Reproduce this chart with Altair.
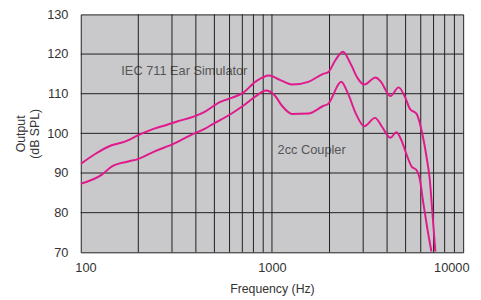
import altair as alt
import pandas as pd

# IEC 711 Ear Simulator curve (frequency Hz, output dB SPL)
iec_freq = [100, 119, 145, 170, 199, 242, 280, 319, 389, 447, 534, 620, 704, 824, 966,
            1100, 1274, 1550, 1853, 1965, 2150, 2348, 2594, 2800, 3035, 3485, 3700,
            4165, 4595, 4980, 5280, 5710, 6060, 6430, 6690, 6900, 7150]
iec_db = [92.3, 94.8, 97.0, 97.9, 99.5, 101.2, 102.1, 103.0, 104.2, 105.5, 107.9, 109.0,
          110.2, 113.1, 114.6, 113.5, 112.3, 113.0, 115.0, 115.4, 118.5, 120.6, 117.3,
          114.0, 112.3, 114.1, 113.1, 109.4, 111.6, 109.0, 106.1, 104.9, 100.7, 94.1,
          88.3, 80.1, 70.2]

# 2cc Coupler curve
cpl_freq = [100, 129, 145, 177, 199, 242, 307, 374, 447, 493, 601, 704, 824, 928, 1024,
            1131, 1274, 1550, 1853, 1965, 2302, 2490, 2751, 3035, 3458, 3770, 4165,
            4470, 4780, 5070, 5380, 5710, 5940, 6180, 6500, 6820]
cpl_db = [87.3, 89.6, 91.6, 92.9, 93.5, 95.4, 97.4, 99.5, 101.2, 102.4, 104.7, 106.9,
          109.4, 110.8, 109.8, 106.9, 104.9, 105.0, 106.9, 107.4, 113.0, 110.2, 104.9,
          101.8, 103.9, 101.6, 98.9, 100.3, 98.0, 94.5, 91.6, 90.7, 88.3, 82.6, 75.9, 70.2]

# grid values
grid_x = [200, 300, 400, 500, 600, 700, 800, 900, 1000, 2000, 3000, 4000, 5000,
          6000, 7000, 8000, 9000]
grid_y = [80, 90, 100, 110, 120]
x_ticks = [100, 1000, 10000]
y_ticks = [70, 80, 90, 100, 110, 120, 130]

# annotations
ann_text = ["IEC 711 Ear Simulator", "2cc Coupler"]
ann_freq = [163, 1070]
ann_db = [115.6, 95.9]

FONT = "Liberation Sans"
MAGENTA = "#e0198c"

lines_df = pd.DataFrame({
    "freq": iec_freq + cpl_freq,
    "db": iec_db + cpl_db,
    "series": ["IEC 711 Ear Simulator"] * len(iec_freq) + ["2cc Coupler"] * len(cpl_freq),
})
gx_df = pd.DataFrame({"freq": grid_x})
gy_df = pd.DataFrame({"db": grid_y})
ann_df = pd.DataFrame({"text": ann_text, "freq": ann_freq, "db": ann_db})

xscale = alt.Scale(type="log", domain=[100, 10000], nice=False)
yscale = alt.Scale(domain=[70, 130], nice=False, zero=False)

xaxis = alt.Axis(values=x_ticks, format="d", title="Frequency (Hz)", grid=False,
                 domain=False, ticks=False, labelPadding=10, labelFlush=True,
                 labelFlushOffset=6, labelFontSize=13, labelColor="#333333",
                 labelFont=FONT, titleFont=FONT, titleFontSize=12.5,
                 titleFontWeight="normal", titleColor="#333333", titlePadding=8)
yaxis = alt.Axis(values=y_ticks, title=["Output", "(dB SPL)"], grid=False,
                 domain=False, ticks=False, labelPadding=13, labelFontSize=13,
                 labelColor="#333333", labelFont=FONT, titleFont=FONT,
                 titleFontSize=12.5, titleFontWeight="normal", titleColor="#333333",
                 titlePadding=5, titleLineHeight=15)

base_x = alt.X("freq:Q", scale=xscale, axis=xaxis)
base_y = alt.Y("db:Q", scale=yscale, axis=yaxis)

text_layer = alt.Chart(ann_df).mark_text(
    align="left", baseline="middle", font=FONT, fontSize=13, color="#555555"
).encode(x=base_x, y=base_y, text="text:N")

vgrid = alt.Chart(gx_df).mark_rule(color="#1e1e1e", strokeWidth=1).encode(
    x=alt.X("freq:Q", scale=xscale, axis=xaxis))
hgrid = alt.Chart(gy_df).mark_rule(color="#1e1e1e", strokeWidth=1).encode(
    y=alt.Y("db:Q", scale=yscale, axis=yaxis))

lines = alt.Chart(lines_df).mark_line(
    color=MAGENTA, strokeWidth=2, interpolate="monotone", clip=True
).encode(x=base_x, y=base_y, detail="series:N")

chart = alt.layer(text_layer, vgrid, hgrid, lines).properties(
    width=389, height=242,
    autosize=alt.AutoSizeParams(type="none"),
    padding={"left": 74, "top": 4, "right": 10, "bottom": 46},
).configure_view(
    fill="#c9c9cb", stroke="#1e1e1e", strokeWidth=1
)

chart.save("out.html", embed_options={"renderer": "svg", "actions": False})
